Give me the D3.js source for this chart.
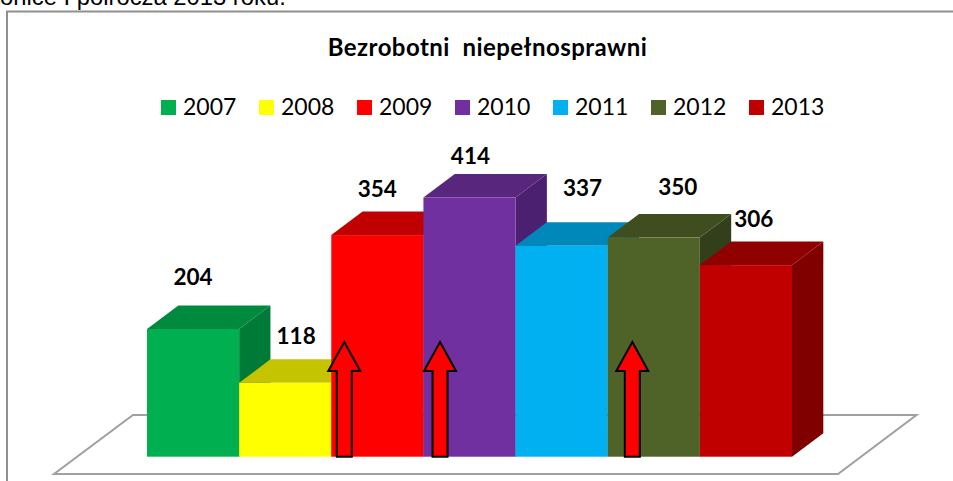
<!DOCTYPE html>
<html><head><meta charset="utf-8">
<script src="https://cdn.jsdelivr.net/npm/d3@7"></script>
<style>html,body{margin:0;padding:0;background:#fff;overflow:hidden}svg{display:block}</style>
</head><body><div id="c"></div>
<script>
const years = ["2007","2008","2009","2010","2011","2012","2013"];
const values = [204,118,354,414,337,350,306];
const titleText = "Bezrobotni\u00A0\u00A0niepełnosprawni";
const headerText = "onice I półrocza 2013 roku.";
const arrowYears = ["2009","2010","2012"];

const frontColors = ["#00B050","#FFFF00","#FF0000","#7030A0","#00B0F0","#4F6228","#C00000"];
const topColors = ["#008A3E","#C4C400","#C00000","#58277D","#0088BA","#3F4D1F","#900000"];
const sideColors = ["#007A37","#AFAF00","#AA0000","#4B2070","#007AA8","#333F1A","#800000"];
const labelShiftX = [46,57,46,47,67,70,54];
const labelShiftY = [-44,-39,-38,-33.5,-50,-43,-38];
const arrowShiftX = [13,16.6,24.6];

const W = 953, H = 481;
const svg = d3.select("#c").append("svg").attr("width",W).attr("height",H);
const x = d3.scaleBand().domain(years).range([147,792]).padding(0);
const y = d3.scaleLinear().domain([0,414]).range([456.7,197.5]);
const dx = 31.3, dy = 23.5;

svg.append("path").attr("d","M7,481V11.5H953").attr("fill","none").attr("stroke","#8f8f8f").attr("stroke-width",2);

svg.append("text").text(headerText).attr("x",0).attr("y",5)
  .attr("font-family","Liberation Sans").attr("font-size",23.8).attr("fill","#000");

svg.append("path").attr("d","M54,474H838L916.5,415H133Z").attr("fill","#fff")
  .attr("stroke","#a0a0a0").attr("stroke-width",2);

const bars = svg.append("g").selectAll("g").data(years).join("g");
bars.each(function(d,i){
  const g = d3.select(this), x0 = x(d), x1 = x0 + x.bandwidth(), y0 = y(0), yt = y(values[i]);
  g.append("path").attr("d",`M${x1},${y0}L${x1+dx},${y0-dy}V${yt-dy}L${x1},${yt}Z`).attr("fill",sideColors[i]);
  g.append("path").attr("d",`M${x0},${yt}L${x0+dx},${yt-dy}H${x1+dx}L${x1},${yt}Z`).attr("fill",topColors[i]);
  g.append("rect").attr("x",x0).attr("y",yt).attr("width",x.bandwidth()).attr("height",y0-yt).attr("fill",frontColors[i]);
});

svg.append("g").selectAll("text").data(years).join("text")
  .text((d,i)=>values[i])
  .attr("x",(d,i)=>x(d)+labelShiftX[i])
  .attr("y",(d,i)=>y(values[i])+labelShiftY[i])
  .attr("text-anchor","middle").attr("font-family","Lato").attr("font-weight",700)
  .attr("font-size",22.5).attr("fill","#000");

arrowYears.forEach((yr,i)=>{
  const cx = x(yr)+arrowShiftX[i];
  const top=342, hb=371, b=456.7;
  svg.append("path").attr("d",`M${cx},${top}L${cx+16},${hb}H${cx+7.5}V${b}H${cx-7.5}V${hb}H${cx-16}Z`)
    .attr("fill","#FF0000").attr("stroke","#000").attr("stroke-width",2);
});

svg.append("text").text(titleText).attr("x",487.5).attr("y",56).attr("text-anchor","middle")
  .attr("font-family","Lato").attr("font-weight",700).attr("font-size",24).attr("letter-spacing",0.45).attr("fill","#000");

const lg = svg.append("g").selectAll("g").data(years).join("g")
  .attr("transform",(d,i)=>`translate(${161+i*98},100)`);
lg.append("rect").attr("width",15).attr("height",15).attr("fill",(d,i)=>frontColors[i]);
lg.append("text").text(d=>d).attr("x",22).attr("y",15).attr("font-family","Lato").attr("font-size",23).attr("fill","#000");
</script></body></html>
